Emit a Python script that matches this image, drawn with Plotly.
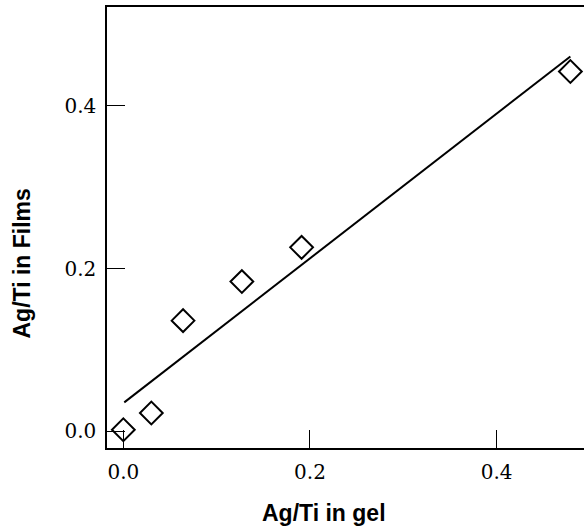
import plotly.graph_objects as go

# Data
ag_ti_gel = [0.0, 0.030, 0.064, 0.127, 0.191, 0.479]
ag_ti_films = [0.002, 0.0226, 0.136, 0.184, 0.226, 0.442]

# Linear fit line endpoints (as drawn)
fit_x = [0.001, 0.479]
fit_y = [0.0356, 0.4605]

x_ticks = [0.0, 0.2, 0.4]
x_tick_labels = ["0.0", "0.2", "0.4"]
y_ticks = [0.0, 0.2, 0.4]
y_tick_labels = ["0.0", "0.2", "0.4"]

fig = go.Figure()
fig.add_trace(go.Scatter(
    x=fit_x, y=fit_y, mode="lines",
    line=dict(color="black", width=2), showlegend=False, hoverinfo="skip"))
fig.add_trace(go.Scatter(
    x=ag_ti_gel, y=ag_ti_films, mode="markers",
    marker=dict(symbol="diamond-open", size=17.5, color="black",
                line=dict(color="black", width=2)),
    showlegend=False, cliponaxis=False))

tickfont = dict(family="DejaVu Serif", size=20, color="black")
L, R, T, B = 107, 584, 7, 448.3
PW, PH = R - L, B - T
fig.update_layout(
    width=584, height=532,
    margin=dict(l=107, r=0, t=7, b=84),
    paper_bgcolor="white", plot_bgcolor="white",
    xaxis=dict(range=[-0.0175, 0.4936], tickvals=x_ticks, ticktext=x_tick_labels,
               ticks="inside", ticklen=18, tickwidth=1.3, tickcolor="black",
               showline=True, linecolor="black", linewidth=1.5, mirror=True,
               showgrid=False, zeroline=False, tickfont=tickfont,
               ticklabelstandoff=5),
    yaxis=dict(range=[-0.0204, 0.5212], tickvals=y_ticks, ticktext=y_tick_labels,
               ticks="inside", ticklen=18, tickwidth=1.3, tickcolor="black",
               showline=True, linecolor="black", linewidth=1.5,
               showgrid=False, zeroline=False, tickfont=tickfont,
               ticklabelstandoff=5),
    annotations=[
        dict(text="<b>Ag/Ti in gel</b>", x=(323.7 - L) / PW, y=(B - 513.8) / PH,
             xref="paper", yref="paper", xanchor="center", yanchor="middle",
             showarrow=False,
             font=dict(family="Liberation Sans", size=23, color="black")),
        dict(text="<b>Ag/Ti in Films</b>", x=(21.7 - L) / PW, y=(B - 264) / PH,
             xref="paper", yref="paper", xanchor="center", yanchor="middle",
             textangle=-90, showarrow=False,
             font=dict(family="Liberation Sans", size=23, color="black")),
    ],
)

fig.write_html("out.html")
